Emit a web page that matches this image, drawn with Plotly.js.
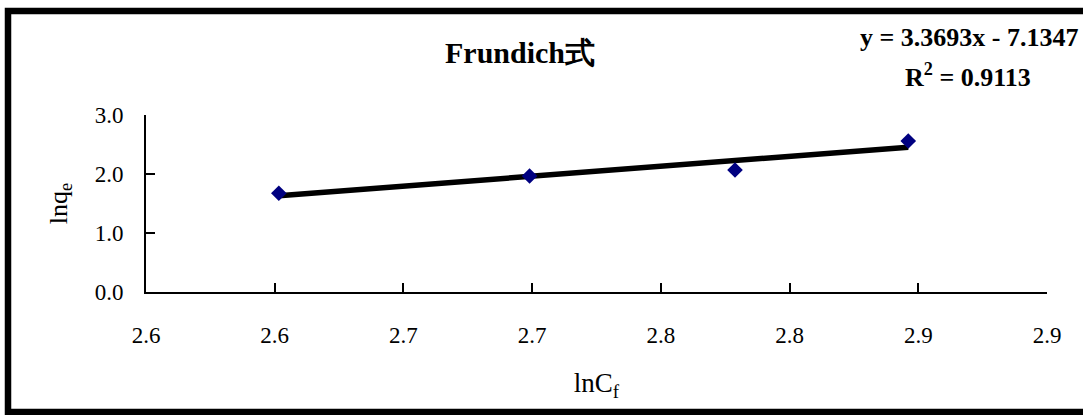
<!DOCTYPE html>
<html>
<head>
<meta charset="utf-8">
<script src="https://cdn.plot.ly/plotly-3.0.1.min.js"></script>
<style>
html,body{margin:0;padding:0;background:#fff;}
#chart{width:1083px;height:415px;}
</style>
</head>
<body>
<div id="chart"></div>
<script>
// Data
const lnCf = [2.6016, 2.6990, 2.7788, 2.8461];
const lnqe = [1.673, 1.966, 2.068, 2.559];
// Linear trendline (as reported on the chart)
const fitSlope = 3.3693;
const fitIntercept = -7.1347;
const fitR2 = 0.9113;
// X axis ticks (Excel shows rounded labels)
const xTickVals = [2.55, 2.60, 2.65, 2.70, 2.75, 2.80, 2.85, 2.90];
const xTickText = ["2.6", "2.6", "2.7", "2.7", "2.8", "2.8", "2.9", "2.9"];
const yTickVals = [0, 1, 2, 3];
const yTickText = ["0.0", "1.0", "2.0", "3.0"];

const xMin = Math.min(...lnCf), xMax = Math.max(...lnCf);
const trendX = [xMin, xMax];
const trendY = trendX.map(x => fitSlope * x + fitIntercept);

const serif = 'Liberation Serif, Times New Roman, serif';

const L = 146, R = 1047, T = 115, B = 292, W = 1083, H = 415;
const px = v => (v - L) / (R - L);
const py = v => (B - v) / (B - T);

const traces = [
  {
    x: trendX, y: trendY, mode: 'lines', type: 'scatter',
    line: {color: '#000000', width: 5.5}, hoverinfo: 'skip', showlegend: false
  },
  {
    x: lnCf, y: lnqe, mode: 'markers', type: 'scatter',
    marker: {symbol: 'diamond', size: 12, color: '#000080'}, showlegend: false
  }
];

const layout = {
  width: W, height: H,
  margin: {l: L, r: W - R, t: T, b: H - B, pad: 0},
  paper_bgcolor: '#ffffff', plot_bgcolor: '#ffffff',
  showlegend: false,
  font: {family: serif, size: 20, color: '#000'},
  title: {
    text: '<b>Frundich式</b>',
    font: {family: serif, size: 30, color: '#000'},
    xref: 'container', yref: 'container',
    x: 520 / W, xanchor: 'center', y: 1 - 52 / H, yanchor: 'middle'
  },
  xaxis: {
    range: [2.55, 2.90],
    tickmode: 'array', tickvals: xTickVals, ticktext: xTickText,
    ticks: 'inside', ticklen: 9, tickwidth: 2, tickcolor: '#000',
    showline: true, linecolor: '#000', linewidth: 2,
    showgrid: false, zeroline: false,
    tickfont: {family: serif, size: 23, color: '#000'},
    ticklabelstandoff: 21,
    title: {text: 'lnC<sub>f</sub>', font: {family: serif, size: 27, color: '#000'}, standoff: 27}
  },
  yaxis: {
    range: [0, 3],
    tickmode: 'array', tickvals: yTickVals, ticktext: yTickText,
    ticks: 'inside', ticklen: 9, tickwidth: 2, tickcolor: '#000',
    showline: true, linecolor: '#000', linewidth: 2,
    showgrid: false, zeroline: false,
    tickfont: {family: serif, size: 23, color: '#000'},
    ticklabelstandoff: 16,
    title: {text: 'lnq<sub>e</sub>', font: {family: serif, size: 26, color: '#000'}, standoff: 20}
  },
  annotations: [
    {
      text: '<b>y = 3.3693x - 7.1347</b>', xref: 'paper', yref: 'paper',
      x: px(969), y: py(38), xanchor: 'center', yanchor: 'middle', showarrow: false,
      font: {family: serif, size: 26, color: '#000'}
    },
    {
      text: '<b>R<sup>2</sup> = ' + fitR2.toFixed(4) + '</b>', xref: 'paper', yref: 'paper',
      x: px(968), y: py(75), xanchor: 'center', yanchor: 'middle', showarrow: false,
      font: {family: serif, size: 26, color: '#000'}
    }
  ],
  shapes: [
    {
      type: 'rect', xref: 'paper', yref: 'paper',
      x0: px(8), x1: px(1092), y0: py(412), y1: py(11),
      line: {color: '#000', width: 6.5}, fillcolor: 'rgba(0,0,0,0)', layer: 'below'
    }
  ]
};

Plotly.newPlot('chart', traces, layout, {displayModeBar: false, staticPlot: true});
</script>
</body>
</html>
